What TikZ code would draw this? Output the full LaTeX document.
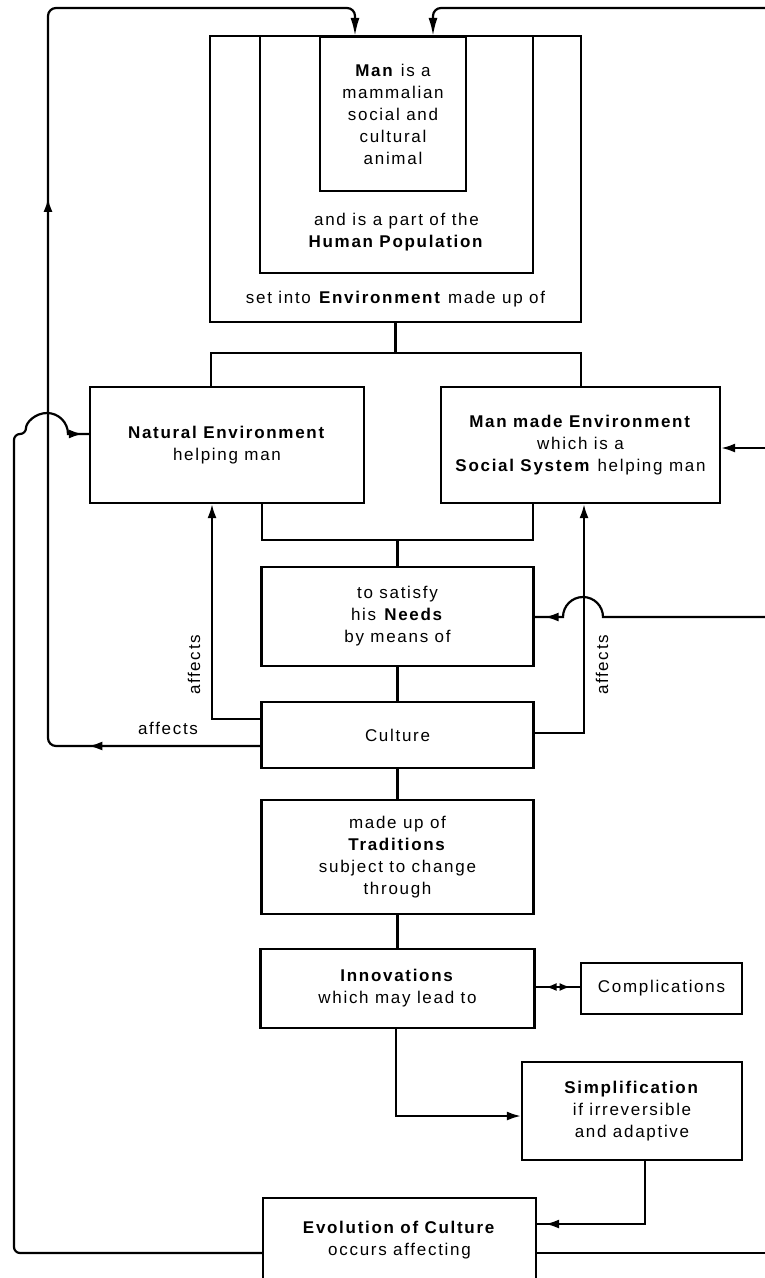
\documentclass[tikz,border=0pt]{standalone}
\usepackage{fontspec}
\newfontfamily\lbl{Liberation Sans}[LetterSpace=10]
\usetikzlibrary{arrows.meta,decorations.markings}

\begin{document}
\begin{tikzpicture}[x=1pt,y=-1pt,
  txt/.style={font=\lbl\fontsize{17}{22}\selectfont, align=center, inner sep=0pt},
  box/.style={draw, line width=2.2pt, inner sep=0pt, txt},
  link/.style={line width=2.2pt},
  tipend/.style={-{Latex[length=14pt,width=9pt]}},
  bigtip/.style={-{Latex[length=18pt,width=9pt]}},
  midtip/.style={postaction={decorate},
    decoration={markings, mark=at position #1 with {\arrow{Latex[length=14pt,width=9pt]}}}},
]
\path[use as bounding box] (0,0) rectangle (765,1278);
\clip (0,0) rectangle (765,1278);

% nested boxes: environment / population / man
\node[box, minimum width=371pt, minimum height=286pt] (env) at (395.5,179) {};
\node[box, minimum width=273pt, minimum height=237pt] (pop) at (396.5,154.5) {};
\node[box, minimum width=146pt, minimum height=154pt] (man) at (393,114)
  {\textbf{Man} is a\\mammalian\\social and\\cultural\\animal};
\node[txt] (poptxt) at (396.5,232) {and is a part of the\\\textbf{Human Population}};
\node[txt] (envtxt) at (395.5,299) {set into \textbf{Environment} made up of};

% the two environments
\node[box, minimum width=274pt, minimum height=116pt] (nat) at (227,445)
  {\textbf{Natural Environment}\\helping man};
\node[box, minimum width=279pt, minimum height=116pt] (mm) at (580.5,445)
  {\textbf{Man made Environment}\\which is a\\\textbf{Social System} helping man};

% central chain
\node[box, minimum width=272pt, minimum height=99pt] (needs) at (397.5,616.5)
  {to satisfy\\his \textbf{Needs}\\by means of};
\node[box, minimum width=272pt, minimum height=66pt] (cult) at (397.5,735) {Culture};
\node[box, minimum width=272pt, minimum height=114pt] (trad) at (397.5,857)
  {made up of\\\textbf{Traditions}\\subject to change\\through};
\node[box, minimum width=274pt, minimum height=79pt] (inno) at (397.5,988.5)
  {\textbf{Innovations}\\which may lead to};
\node[box, minimum width=161pt, minimum height=51pt] (comp) at (661.5,988.5) {Complications};
\node[box, minimum width=220pt, minimum height=98pt] (simp) at (632,1111)
  {\textbf{Simplification}\\if irreversible\\and adaptive};
\node[box, minimum width=273pt, minimum height=92pt] (evo) at (399.5,1244) {};
\node[txt] (evotxt) at (399.5,1240) {\textbf{Evolution of Culture}\\occurs affecting};

% labels
\node[txt, rotate=90] (aff1) at (194,665) {affects};
\node[txt, rotate=90] (aff2) at (602,665) {affects};
\node[txt] (aff3) at (168,728) {affects};

% routing points
\coordinate (barL) at (211,353);
\coordinate (barR) at (581,353);
\coordinate (jL) at (262,540);
\coordinate (jR) at (533,540);
\coordinate (cN) at (212,719);
\coordinate (cA) at (48,746);
\coordinate (cTop) at (48,8);
\coordinate (cTopR) at (355,8);
\coordinate (rTop) at (765,8);
\coordinate (rTopL) at (433,8);
\coordinate (rM) at (765,448);
\coordinate (rN) at (765,617);
\coordinate (hopR) at (603,617);
\coordinate (cR) at (584,733);
\coordinate (eL) at (14,1253);
\coordinate (eUp) at (14,434);
\coordinate (hopL) at (26,434);
\coordinate (rE) at (765,1253);
\coordinate (iS) at (396,1116);
\coordinate (sS) at (645,1224);
\coordinate (ic) at (560,987);

% environment splits into its two parts
\draw[link] (env.south) -- (env.south |- barL);
\draw[link] (nat.north -| barL) -- (barL) -- (barR) -- (mm.north -| barR);
\draw[link] (nat.south -| jL) -- (jL) -- (jR) -- (mm.south -| jR);
\draw[link] (needs.north) -- (needs.north |- jL);
\draw[link] (needs.south) -- (cult.north);
\draw[link] (cult.south) -- (trad.north);
\draw[link] (trad.south) -- (inno.north);

% culture affects the environments and man
\draw[link, tipend] (cult.west |- cN) -- (cN) -- (nat.south -| cN);
\draw[link, tipend] (cult.east |- cR) -- (cR) -- (mm.south -| cR);
\draw[link, rounded corners=8pt, bigtip, postaction={decorate},
  decoration={markings,
    mark=at position 172pt with {\arrow{Latex[length=14pt,width=9pt]}},
    mark=at position 757pt with {\arrow{Latex[length=14pt,width=9pt]}}}]
  (cult.west |- cA) -- (cA) -- (cTop) -- (cTopR) -- (man.north -| cTopR);

% feedback from outside on the right
\draw[link, rounded corners=8pt, bigtip] (rTop) -- (rTopL) -- (man.north -| rTopL);
\draw[link, tipend] (rM) -- (mm.east |- rM);
\draw[link, midtip=-10pt] (rN) -- (hopR) arc[start angle=0, end angle=-180, radius=20]
  -- (needs.east |- rN);

% innovations and their outcomes
\draw[link, postaction={decorate},
  decoration={markings,
    mark=at position 10pt with {\arrowreversed{Latex[length=11pt,width=8pt]}},
    mark=at position 35pt with {\arrow{Latex[length=11pt,width=8pt]}}}]
  (inno.east |- ic) -- (comp.west |- ic);
\draw[link, tipend] (inno.south -| iS) -- (iS) -- (simp.west |- iS);
\draw[link, midtip=-8pt] (simp.south -| sS) -- (sS) -- (evo.east |- sS);

% evolution of culture feeds back
\draw[link, rounded corners=6pt, midtip=-6pt] (evo.west |- eL) -- (eL) -- (eUp) -- (hopL)
  [sharp corners] arc[start angle=180, end angle=360, radius=21] -- (nat.west |- eUp);
\draw[link] (evo.east |- rE) -- (rE);
\end{tikzpicture}
\end{document}
